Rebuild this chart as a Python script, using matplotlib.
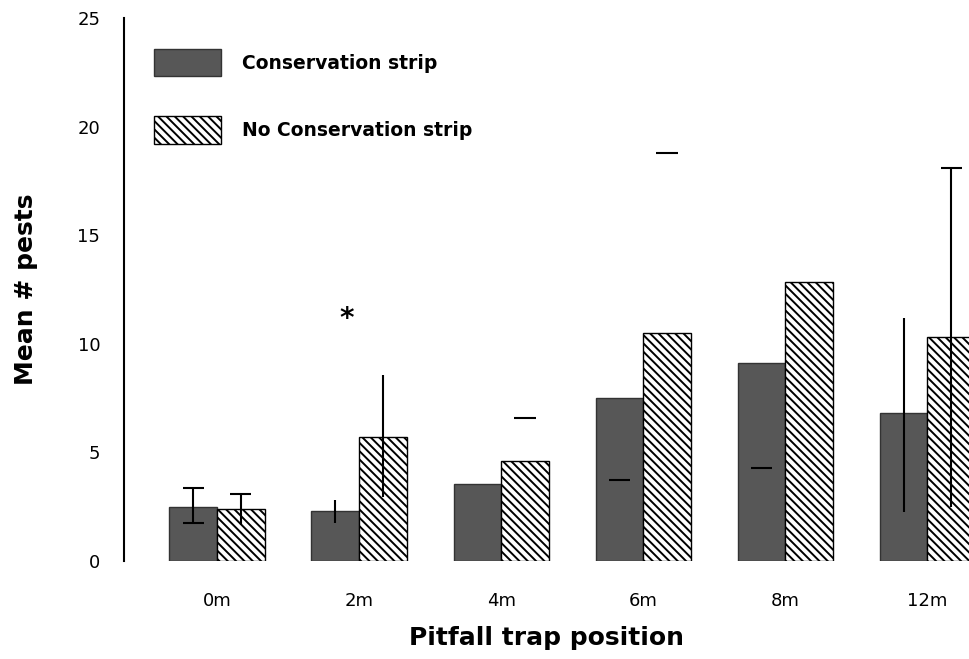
import matplotlib
matplotlib.use('Agg')
import matplotlib.pyplot as plt
import numpy as np

nan = np.nan

## data ##
positions = ['0m', '2m', '4m', '6m', '8m', '12m']
cons_mean = [2.5, 2.3, 3.55, 7.5, 9.1, 6.8]
nocons_mean = [2.4, 5.7, 4.6, 10.5, 12.85, 10.3]

# error bar ends (nan = not drawn)
cons_err_lo = [1.75, 1.75, nan, 3.75, 4.3, 2.25]
cons_err_hi = [3.35, 2.8, nan, nan, nan, 11.2]
nocons_err_lo = [1.65, 2.95, nan, nan, nan, 2.5]
nocons_err_hi = [3.1, 8.55, 6.6, 18.8, nan, 18.1]

# which ends carry a cap when a whisker is drawn
cons_cap_lo = [True, False, False, True, True, False]
cons_cap_hi = [True, False, False, True, True, False]
nocons_cap_lo = [False, False, False, True, True, False]
nocons_cap_hi = [True, False, True, True, True, True]

star_pos = 0.91
star_val = 11.3

plt.rcParams['font.family'] = ['DejaVu Sans']
plt.rcParams['hatch.linewidth'] = 1.4

fig = plt.figure(figsize=(9.7, 6.59), dpi=100)
ax = fig.add_axes([0.1278, 0.1487, 0.8722, 0.8237])

x = np.arange(len(positions))
w = 0.335
dark = '#575757'

ax.bar(x - w / 2, cons_mean, w, color=dark, edgecolor='#333333', linewidth=1,
       label='Conservation strip', zorder=2)
ax.bar(x + w / 2, nocons_mean, w, color='white', edgecolor='black', linewidth=1,
       hatch='\\\\\\\\', label='No Conservation strip', zorder=2)


def draw_err(xs, lo, hi, cap_lo, cap_hi):
    cw = 0.075
    for xi, l, h, cl, ch in zip(xs, lo, hi, cap_lo, cap_hi):
        if not np.isnan(l) and not np.isnan(h):
            ax.vlines(xi, l, h, color='black', linewidth=1.5, zorder=3)
            if cl:
                ax.hlines(l, xi - cw, xi + cw, color='black', linewidth=1.5, zorder=3)
            if ch:
                ax.hlines(h, xi - cw, xi + cw, color='black', linewidth=1.5, zorder=3)
        else:
            # lone cap, whisker missing
            for v in (l, h):
                if not np.isnan(v):
                    ax.hlines(v, xi - cw, xi + cw, color='black', linewidth=1.5, zorder=3)


draw_err(x - w / 2, cons_err_lo, cons_err_hi, cons_cap_lo, cons_cap_hi)
draw_err(x + w / 2, nocons_err_lo, nocons_err_hi, nocons_cap_lo, nocons_cap_hi)

ax.text(star_pos, star_val - 0.15, '*', fontsize=20, fontweight='bold', ha='center', va='center')

ax.set_xlim(-0.655, 5.30)
ax.set_ylim(0, 25)
ax.set_yticks([0, 5, 10, 15, 20, 25])
ax.set_xticks(x)
ax.set_xticklabels(positions)
ax.tick_params(axis='both', length=0, labelsize=13)
ax.tick_params(axis='y', pad=17)
ax.tick_params(axis='x', pad=22)

for s in ['top', 'right', 'bottom']:
    ax.spines[s].set_visible(False)
ax.spines['left'].set_linewidth(1.5)

ax.set_ylabel('Mean # pests', fontsize=18, fontweight='bold', labelpad=28)
ax.set_xlabel('Pitfall trap position', fontsize=18, fontweight='bold', labelpad=12)

ax.legend(loc='upper left', bbox_to_anchor=(0.015, 0.975), frameon=False,
          prop={'weight': 'bold', 'size': 13.5},
          handlelength=3.6, handleheight=1.9, labelspacing=2.1, handletextpad=1.1)

fig.savefig('out.png', dpi=100)
